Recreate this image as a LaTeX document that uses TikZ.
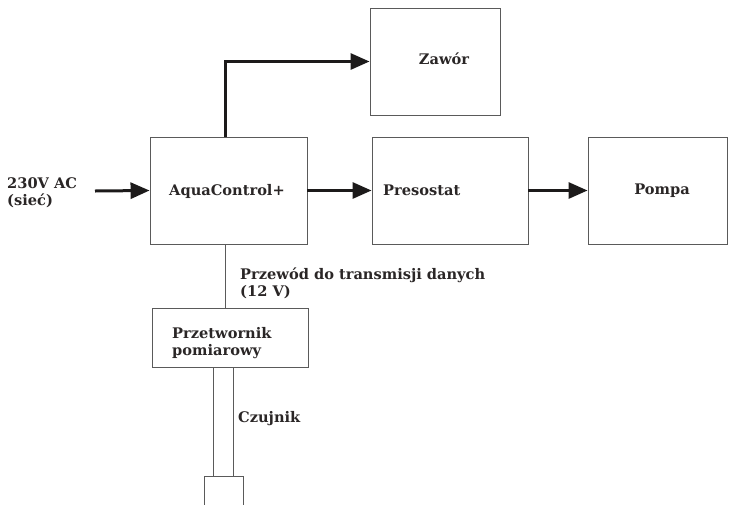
\documentclass[tikz,border=0pt]{standalone}
\usepackage{fontspec}
\setmainfont{DejaVu Serif}
\usetikzlibrary{arrows.meta}
\definecolor{boxgray}{HTML}{5A5A5A}
\definecolor{arrowc}{HTML}{1C1A1A}
\definecolor{txtc}{HTML}{2A2626}
\begin{document}
\begin{tikzpicture}[x=1pt,y=-1pt,
  box/.style={draw=boxgray, line width=0.9pt, inner sep=0pt},
  txt/.style={text=txtc, font=\bfseries\fontsize{14.6}{17}\selectfont, inner sep=0pt, align=left},
  flow/.style={line width=3pt, draw=arrowc, -{Triangle[length=19pt,width=16pt]}},
  wire/.style={draw=boxgray, line width=0.9pt}]
\useasboundingbox (0,0) rectangle (736,504);
\clip (0,0) rectangle (736,504);
% boxes
\node[box, minimum width=157pt, minimum height=107pt] (aqua) at (228.5,190.5) {};
\node[box, minimum width=130pt, minimum height=107pt] (zawor) at (435,61.5) {};
\node[box, minimum width=156pt, minimum height=107pt] (preso) at (450,190.5) {};
\node[box, minimum width=139pt, minimum height=107pt] (pompa) at (657.5,190.5) {};
\node[box, minimum width=156pt, minimum height=59pt] (przet) at (230,337.5) {};
\node[box, minimum width=39pt, minimum height=60pt] (sensor) at (223.5,506) {};
% texts
\node[txt, anchor=west] (tin) at (7,193) {230V AC\\(sieć)};
\node[txt] (taqua) at (227,191) {AquaControl+};
\node[txt] (tzawor) at (444,59) {Zawór};
\node[txt, anchor=west] (tpreso) at (383,190) {Presostat};
\node[txt] (tpompa) at (662,191) {Pompa};
\node[txt, anchor=west] (tdata) at (240,283) {Przewód do transmisji danych\\(12 V)};
\node[txt, anchor=west] (tprzet) at (172,343) {Przetwornik\\pomiarowy};
\node[txt, anchor=west] (tczuj) at (238,419) {Czujnik};
% connectors
\coordinate (src) at (95,191);
\coordinate (dx) at (225,0);
\coordinate (s1) at (213,0);
\coordinate (s2) at (233,0);
\draw[flow] (src) -- (aqua.west);
\draw[flow] (aqua.east) -- (preso.west);
\draw[flow] (preso.east) -- (pompa.west);
\draw[flow] (dx |- aqua.north) |- (zawor.west);
\draw[wire] (dx |- aqua.south) -- (dx |- przet.north);
\draw[wire] (s1 |- przet.south) -- (s1 |- sensor.north);
\draw[wire] (s2 |- przet.south) -- (s2 |- sensor.north);
\end{tikzpicture}
\end{document}
